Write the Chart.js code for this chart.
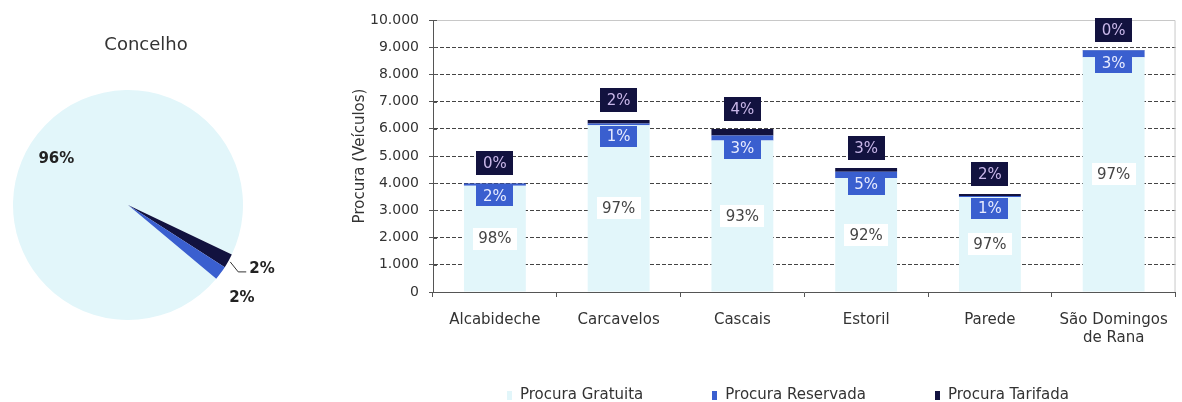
<!DOCTYPE html>
<html lang="pt">
<head>
<meta charset="utf-8">
<title>Procura de estacionamento</title>
<script src="https://cdn.jsdelivr.net/npm/chart.js@4.4.1/dist/chart.umd.min.js"></script>
<style>
  html, body { margin: 0; padding: 0; background: #fff; width: 1182px; height: 402px; overflow: hidden; }
  #pie { position: absolute; left: 0; top: 0; }
  #barras { position: absolute; left: 340px; top: 0; }
</style>
</head>
<body>
<canvas id="pie" width="290" height="402"></canvas>
<canvas id="barras" width="842" height="402"></canvas>
<script>
// Freguesias (categorias do eixo X)
const freguesias = ['Alcabideche', 'Carcavelos', 'Cascais', 'Estoril', 'Parede', ['São Domingos', 'de Rana']];

// Procura em veículos, por tipo
const procuraGratuita = [3910, 6130, 5570, 4195, 3490, 8630];
const procuraReservada = [80, 63, 180, 228, 38, 260];
const procuraTarifada = [10, 127, 240, 137, 72, 10];

// Eixo Y
const eixoMax = 10000;
const eixoPasso = 1000;

// Concelho (%) - ordem no sentido dos ponteiros
const concelhoLabels = ['Procura Gratuita', 'Procura Tarifada', 'Procura Reservada'];
const concelhoValores = [96, 2, 2];

const corGratuita = '#e2f6fa';
const corReservada = '#3a5fcf';
const corTarifada = '#12123f';

Chart.defaults.font.family = '"DejaVu Sans", sans-serif';
Chart.defaults.color = '#333';

// Formata 10000 -> 10.000
const milhares = (v) => String(v).replace(/\B(?=(\d{3})+(?!\d))/g, '.');

// Caixa com texto centrada em (x, y)
function caixa(ctx, x, y, w, h, fundo, cor, texto) {
    ctx.fillStyle = fundo;
    ctx.fillRect(Math.round(x - w / 2), Math.round(y - h / 2), w, h);
    ctx.fillStyle = cor;
    ctx.fillText(texto, x, y + 1);
}

// Rótulos de percentagem nas barras
const rotulosBarras = {
    id: 'rotulosBarras',
    afterDatasetsDraw(chart) {
        const ctx = chart.ctx;
        const metas = [0, 1, 2].map(i => chart.getDatasetMeta(i));
        ctx.save();
        ctx.font = '15px "DejaVu Sans"';
        ctx.textAlign = 'center';
        ctx.textBaseline = 'middle';
        freguesias.forEach((f, i) => {
            const total = procuraGratuita[i] + procuraReservada[i] + procuraTarifada[i];
            const pct = (v) => Math.round(v / total * 100) + '%';
            const g = metas[0].data[i];
            const r = metas[1].data[i];
            const t = metas[2].data[i];
            caixa(ctx, g.x, (g.y + g.base) / 2, 44, 22, '#ffffff', '#444', pct(procuraGratuita[i]));
            caixa(ctx, r.x, r.y + 2 + 10.5, 37, 21, corReservada, '#e8ecff', pct(procuraReservada[i]));
            caixa(ctx, t.x, t.y - 8 - 12, 37, 24, corTarifada, '#c8b6e8', pct(procuraTarifada[i]));
        });
        ctx.restore();
    }
};

// Moldura da área do gráfico e marcas interiores do eixo Y
const moldura = {
    id: 'moldura',
    beforeDatasetsDraw(chart) {
        const { ctx, chartArea: a, scales: { y } } = chart;
        ctx.save();
        ctx.lineWidth = 1;
        ctx.strokeStyle = '#c8c8c8';
        ctx.beginPath();
        ctx.moveTo(a.left, a.top + 0.5);
        ctx.lineTo(a.right - 0.5, a.top + 0.5);
        ctx.lineTo(a.right - 0.5, a.bottom);
        ctx.stroke();
        ctx.strokeStyle = '#555';
        ctx.beginPath();
        y.ticks.forEach(t => {
            const py = Math.round(y.getPixelForValue(t.value)) + 0.5;
            ctx.moveTo(a.left, py);
            ctx.lineTo(a.left + 4, py);
        });
        ctx.stroke();
        ctx.restore();
    }
};

// Legenda em baixo, com o espaçamento do original
const legendaBaixo = {
    id: 'legendaBaixo',
    afterDraw(chart) {
        const ctx = chart.ctx;
        const sets = chart.data.datasets;
        const espaco = 69, caixaL = 5, caixaA = 9, centro = 448, yMeio = 395;
        ctx.save();
        ctx.font = '15px "DejaVu Sans"';
        ctx.textBaseline = 'middle';
        ctx.textAlign = 'left';
        const larg = sets.map(d => caixaL + 8 + ctx.measureText(d.label).width);
        const total = larg.reduce((s, w) => s + w, 0) + espaco * (sets.length - 1);
        let x = centro - total / 2;
        sets.forEach((d, i) => {
            ctx.fillStyle = d.backgroundColor;
            ctx.fillRect(Math.round(x), Math.round(yMeio - caixaA / 2), caixaL, caixaA);
            ctx.fillStyle = '#333';
            ctx.fillText(d.label, x + caixaL + 8, yMeio);
            x += larg[i] + espaco;
        });
        ctx.restore();
    }
};

new Chart(document.getElementById('barras'), {
    type: 'bar',
    data: {
        labels: freguesias,
        datasets: [
            { label: 'Procura Gratuita', data: procuraGratuita, backgroundColor: corGratuita },
            { label: 'Procura Reservada', data: procuraReservada, backgroundColor: corReservada },
            { label: 'Procura Tarifada', data: procuraTarifada, backgroundColor: corTarifada }
        ]
    },
    options: {
        responsive: false,
        animation: false,
        datasets: { bar: { barPercentage: 0.5, categoryPercentage: 1, borderWidth: 0 } },
        layout: { padding: { left: 0, right: 3, top: 20, bottom: 0 } },
        scales: {
            x: {
                stacked: true,
                grid: { drawOnChartArea: false, tickLength: 5, color: '#555' },
                border: { color: '#555' },
                ticks: { font: { size: 15 }, color: '#333', padding: 14 },
                afterFit: (s) => { s.height = 110; }
            },
            y: {
                stacked: true,
                min: 0,
                max: eixoMax,
                grid: {
                    color: (c) => (c.tick.value === 0 || c.tick.value === eixoMax) ? 'rgba(0,0,0,0)' : '#444',
                    tickColor: '#555',
                    tickLength: 4
                },
                border: { color: '#555', dash: [4, 2] },
                ticks: { stepSize: eixoPasso, font: { size: 14 }, color: '#333', padding: 10, callback: (v) => milhares(v) },
                title: { display: true, text: 'Procura (Veículos)', font: { size: 15 }, color: '#333', padding: { top: 11, bottom: 0 } },
                afterFit: (s) => { s.width = 93; }
            }
        },
        plugins: {
            legend: { display: false },
            tooltip: { enabled: false }
        }
    },
    plugins: [moldura, rotulosBarras, legendaBaixo]
});

// Título e rótulos do gráfico circular
const rotulosPie = {
    id: 'rotulosPie',
    afterDatasetsDraw(chart) {
        const ctx = chart.ctx;
        const arcs = chart.getDatasetMeta(0).data;
        ctx.save();
        ctx.font = '18px "DejaVu Sans"';
        ctx.fillStyle = '#333';
        ctx.textAlign = 'center';
        ctx.textBaseline = 'middle';
        ctx.fillText('Concelho', 146, 45);

        ctx.font = 'bold 15px "DejaVu Sans"';
        ctx.fillStyle = '#222';
        ctx.strokeStyle = '#333';
        ctx.lineWidth = 1;
        arcs.forEach((arc, i) => {
            const { x, y, startAngle, endAngle, outerRadius } = arc.getProps(['x', 'y', 'startAngle', 'endAngle', 'outerRadius'], true);
            const texto = concelhoValores[i] + '%';
            const mid = (startAngle + endAngle) / 2;
            if (i === 0) {
                ctx.textAlign = 'center';
                ctx.fillText(texto, x + Math.cos(mid) * outerRadius * 0.74, y + Math.sin(mid) * outerRadius * 0.74);
            } else if (i === 1) {
                // linha de chamada
                const ex = x + Math.cos(mid) * (outerRadius + 2);
                const ey = y + Math.sin(mid) * (outerRadius + 2);
                ctx.beginPath();
                ctx.moveTo(ex, ey);
                ctx.lineTo(ex + 8, ey + 10);
                ctx.lineTo(ex + 16, ey + 10);
                ctx.stroke();
                ctx.textAlign = 'left';
                ctx.fillText(texto, ex + 19, ey + 7);
            } else {
                const a = endAngle - 0.01;
                ctx.textAlign = 'center';
                ctx.fillText(texto, x + Math.cos(a) * outerRadius * 1.28, y + Math.sin(a) * outerRadius * 1.28);
            }
        });
        ctx.restore();
    }
};

new Chart(document.getElementById('pie'), {
    type: 'pie',
    data: {
        labels: concelhoLabels,
        datasets: [{
            data: concelhoValores,
            backgroundColor: [corGratuita, corTarifada, corReservada],
            borderWidth: 0,
            hoverOffset: 0
        }]
    },
    options: {
        responsive: false,
        animation: false,
        rotation: 129.9,
        layout: { padding: { top: 90, right: 34, bottom: 82 } },
        plugins: {
            legend: { display: false },
            tooltip: { enabled: false }
        }
    },
    plugins: [rotulosPie]
});
</script>
</body>
</html>
